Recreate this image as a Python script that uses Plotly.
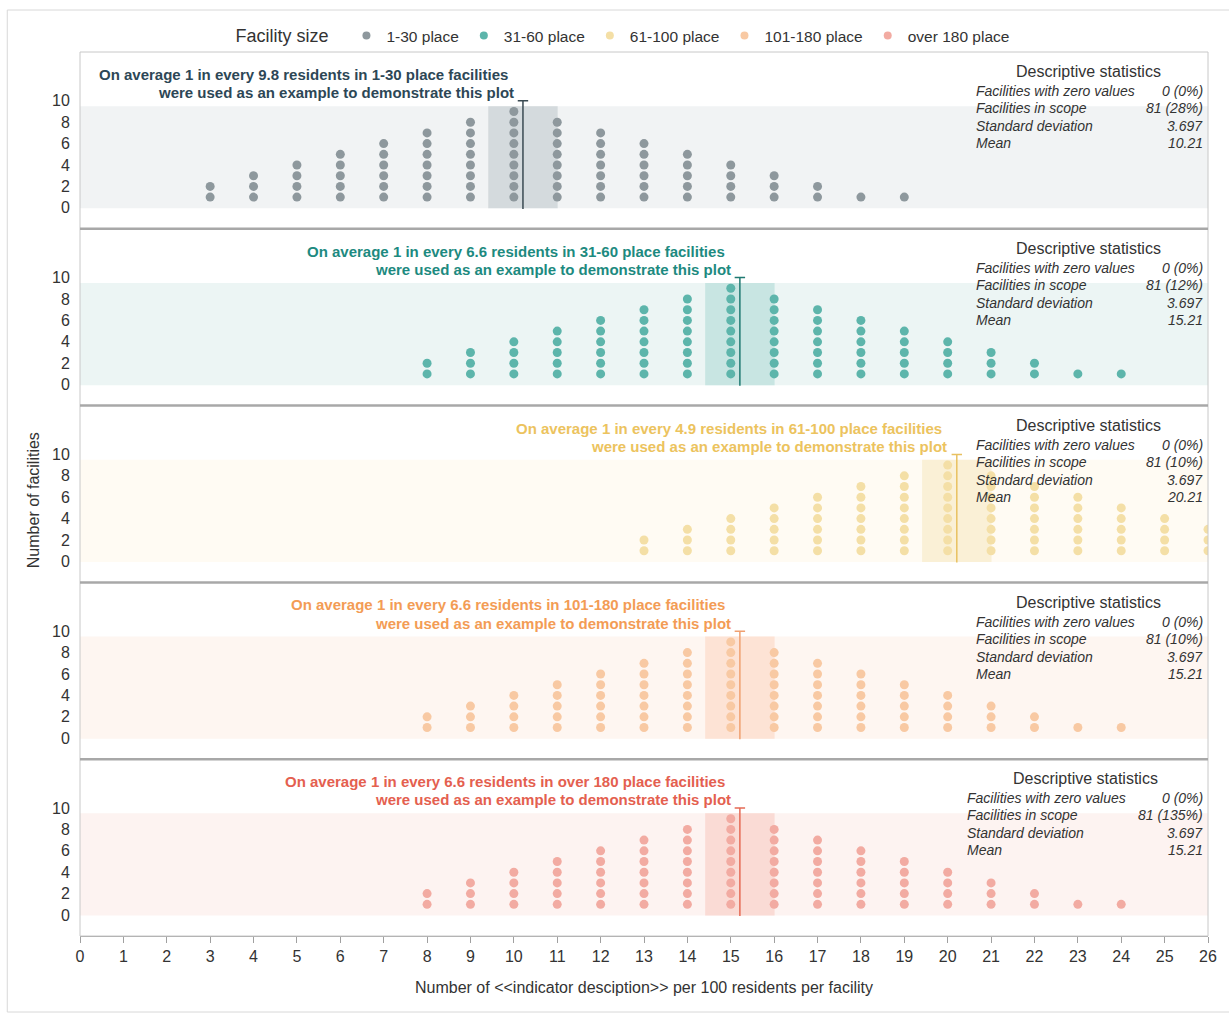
import plotly.graph_objects as go
from plotly.subplots import make_subplots

# ---------------- data ----------------
x_ticks = list(range(0, 27))
y_ticks = [0, 2, 4, 6, 8, 10]

size_groups = ["1-30 place", "31-60 place", "61-100 place", "101-180 place", "over 180 place"]
group_short = ["1-30", "31-60", "61-100", "101-180", "over 180"]

p1_x = [3, 4, 5, 6, 7, 8, 9, 10, 11, 12, 13, 14, 15, 16, 17, 18, 19]
p1_counts = [2, 3, 4, 5, 6, 7, 8, 9, 8, 7, 6, 5, 4, 3, 2, 1, 1]
p2_x = [8, 9, 10, 11, 12, 13, 14, 15, 16, 17, 18, 19, 20, 21, 22, 23, 24]
p2_counts = [2, 3, 4, 5, 6, 7, 8, 9, 8, 7, 6, 5, 4, 3, 2, 1, 1]
p3_x = [13, 14, 15, 16, 17, 18, 19, 20, 21, 22, 23, 24, 25, 26]
p3_counts = [2, 3, 4, 5, 6, 7, 8, 9, 8, 7, 6, 5, 4, 3]
p4_x = [8, 9, 10, 11, 12, 13, 14, 15, 16, 17, 18, 19, 20, 21, 22, 23, 24]
p4_counts = [2, 3, 4, 5, 6, 7, 8, 9, 8, 7, 6, 5, 4, 3, 2, 1, 1]
p5_x = [8, 9, 10, 11, 12, 13, 14, 15, 16, 17, 18, 19, 20, 21, 22, 23, 24]
p5_counts = [2, 3, 4, 5, 6, 7, 8, 9, 8, 7, 6, 5, 4, 3, 2, 1, 1]

means = [10.21, 15.21, 20.21, 15.21, 15.21]
ci_low = [9.41, 14.41, 19.41, 14.41, 14.41]
ci_high = [11.01, 16.01, 21.01, 16.01, 16.01]
ratios = ["9.8", "6.6", "4.9", "6.6", "6.6"]

stat_labels = ["Facilities with zero values", "Facilities in scope", "Standard deviation", "Mean"]
zero_vals = ["0 (0%)", "0 (0%)", "0 (0%)", "0 (0%)", "0 (0%)"]
in_scope = ["81 (28%)", "81 (12%)", "81 (10%)", "81 (10%)", "81 (135%)"]
std_devs = ["3.697", "3.697", "3.697", "3.697", "3.697"]
mean_labels = ["10.21", "15.21", "20.21", "15.21", "15.21"]

# ---------------- styles ----------------
dot_colors = ["#8e989d", "#5db5ab", "#f4dfa6", "#f8c9a3", "#f2aba2"]
text_colors = ["#2d4756", "#1d8a80", "#ecc35e", "#f39c55", "#e4604f"]
band_colors = ["#f1f3f4", "#ecf5f4", "#fffbf3", "#fef6f1", "#fdf3f1"]
rect_colors = ["#d4dadd", "#c8e5e2", "#faf0d6", "#fde3d5", "#fadbd5"]
line_colors = ["#3a4a52", "#1f7a72", "#e8c060", "#f0a070", "#e56a55"]

panels_x = [p1_x, p2_x, p3_x, p4_x, p5_x]
panels_counts = [p1_counts, p2_counts, p3_counts, p4_counts, p5_counts]

FONT = "Liberation Sans, Arial, sans-serif"
NARROW = "Liberation Sans Narrow, Arial Narrow, Liberation Sans, Arial, sans-serif"
TXT = "#333333"

T_MARGIN, B_MARGIN = 52, 78
PLOT_H = 1014 - T_MARGIN - B_MARGIN

fig = make_subplots(rows=5, cols=1, shared_xaxes=True, vertical_spacing=0)

# legend-only traces
for name, col in zip(size_groups, dot_colors):
    fig.add_trace(go.Scatter(x=[None], y=[None], mode="markers", name=name,
                             marker=dict(size=8, color=col), showlegend=True), row=1, col=1)

shapes = []
annotations = []
for i in range(5):
    r = i + 1
    xs, ys = [], []
    for xv, c in zip(panels_x[i], panels_counts[i]):
        for k in range(1, c + 1):
            xs.append(xv)
            ys.append(k)
    fig.add_trace(go.Scatter(x=xs, y=ys, mode="markers", showlegend=False,
                             marker=dict(size=9, color=dot_colors[i]), hoverinfo="x+y"),
                  row=r, col=1)
    xr = "x" if r == 1 else f"x{r}"
    yr = "y" if r == 1 else f"y{r}"
    # band
    shapes.append(dict(type="rect", xref=xr, yref=yr, x0=x_ticks[0], x1=x_ticks[-1], y0=-0.05, y1=9.5,
                       fillcolor=band_colors[i], line=dict(width=0), layer="below"))
    # mean interval
    shapes.append(dict(type="rect", xref=xr, yref=yr, x0=ci_low[i], x1=ci_high[i], y0=-0.05, y1=9.5,
                       fillcolor=rect_colors[i], line=dict(width=0), layer="below"))
    # mean line + cap
    shapes.append(dict(type="line", xref=xr, yref=yr, x0=means[i], x1=means[i], y0=-0.1, y1=10,
                       line=dict(color=line_colors[i], width=1.5), layer="above"))
    shapes.append(dict(type="line", xref=xr, yref=yr, x0=means[i] - 0.12, x1=means[i] + 0.12, y0=10, y1=10,
                       line=dict(color=line_colors[i], width=1.5), layer="above"))
    # headline text
    line1 = f"On average 1 in every {ratios[i]} residents in {group_short[i]} place facilities"
    line2 = "were used as an example to demonstrate this plot"
    for txt, xoff, yv in [(line1, 0.30, 12.45), (line2, 0.17, 10.76)]:
        annotations.append(dict(xref=xr, yref=yr, x=means[i] - xoff, y=yv, text=txt, showarrow=False,
                                xanchor="right", yanchor="middle",
                                font=dict(family=NARROW, size=15, color=text_colors[i], weight="bold")))
    # descriptive statistics box
    lab_x = 20.39 if i == 4 else 20.60
    tit_x = 23.17 if i == 4 else 23.24
    annotations.append(dict(xref=xr, yref=yr, x=tit_x, y=12.72, text="Descriptive statistics",
                            showarrow=False, xanchor="center", yanchor="middle",
                            font=dict(family=FONT, size=16, color=TXT)))
    vals = [zero_vals[i], in_scope[i], std_devs[i], mean_labels[i]]
    for lab, val, yv in zip(stat_labels, vals, [10.9, 9.3, 7.62, 6.03]):
        annotations.append(dict(xref=xr, yref=yr, x=lab_x, y=yv, text=lab, showarrow=False,
                                xanchor="left", yanchor="middle",
                                font=dict(family=FONT, size=14, color=TXT, style="italic")))
        annotations.append(dict(xref=xr, yref=yr, x=25.94, y=yv, text=val, showarrow=False,
                                xanchor="right", yanchor="middle",
                                font=dict(family=FONT, size=14, color=TXT, style="italic")))

    fig.update_yaxes(row=r, col=1, range=[-1.96, 14.56], tickvals=y_ticks, showgrid=False,
                     zeroline=False, showline=False, ticks="outside", ticklen=6,
                     tickcolor="rgba(0,0,0,0)", tickfont=dict(family=FONT, size=16, color=TXT))
    fig.update_xaxes(row=r, col=1, range=[x_ticks[0], x_ticks[-1]], showgrid=False, zeroline=False,
                     tickvals=x_ticks)

fig.update_xaxes(row=5, col=1, showline=True, linecolor="#a0a0a0", linewidth=1, ticks="outside",
                 ticklen=6, tickcolor="#a0a0a0", tickfont=dict(family=FONT, size=16, color=TXT))

# frame of plot area and separators
shapes.append(dict(type="rect", xref="paper", yref="paper", x0=0, x1=1, y0=0, y1=1,
                   line=dict(color="#c8c8c8", width=1), layer="above"))
for k in range(1, 5):
    shapes.append(dict(type="line", xref="paper", yref="paper", x0=0, x1=1, y0=k / 5, y1=k / 5,
                       line=dict(color="#a8a8a8", width=2.5), layer="above"))
# outer frame
shapes.append(dict(type="rect", xref="paper", yref="paper",
                   x0=(7 - 80) / 1132, x1=1.05, y0=-(1012 - (1014 - B_MARGIN)) / PLOT_H,
                   y1=1 + (T_MARGIN - 10) / PLOT_H,
                   line=dict(color="#d8d8d8", width=1), layer="below"))

annotations.append(dict(xref="paper", yref="paper", x=0.5, y=-(987 - (1014 - B_MARGIN)) / PLOT_H,
                        text="Number of &lt;&lt;indicator desciption&gt;&gt; per 100 residents per facility",
                        showarrow=False, xanchor="center", yanchor="middle",
                        font=dict(family=FONT, size=16, color=TXT)))
annotations.append(dict(xref="paper", yref="paper", x=-0.0415, y=((1014 - B_MARGIN) - 500) / PLOT_H,
                        text="Number of facilities",
                        textangle=-90, showarrow=False, xanchor="center", yanchor="middle",
                        font=dict(family=FONT, size=16, color=TXT)))

fig.update_layout(
    width=1229, height=1014,
    margin=dict(l=80, r=17, t=T_MARGIN, b=B_MARGIN),
    paper_bgcolor="white", plot_bgcolor="white",
    shapes=shapes, annotations=annotations,
    showlegend=True,
    legend=dict(orientation="h", x=0.136, xanchor="left", y=1 + (T_MARGIN - 36) / PLOT_H, yanchor="middle",
                title=dict(text="Facility size&nbsp;&nbsp;", font=dict(family=FONT, size=18, color=TXT)),
                font=dict(family=FONT, size=15.5, color=TXT), bgcolor="rgba(0,0,0,0)"),
    font=dict(family=FONT, color=TXT),
)

fig.write_html("out.html", config={"displayModeBar": False},
               post_script="document.body.style.margin='0px';document.body.style.overflow='hidden';")
